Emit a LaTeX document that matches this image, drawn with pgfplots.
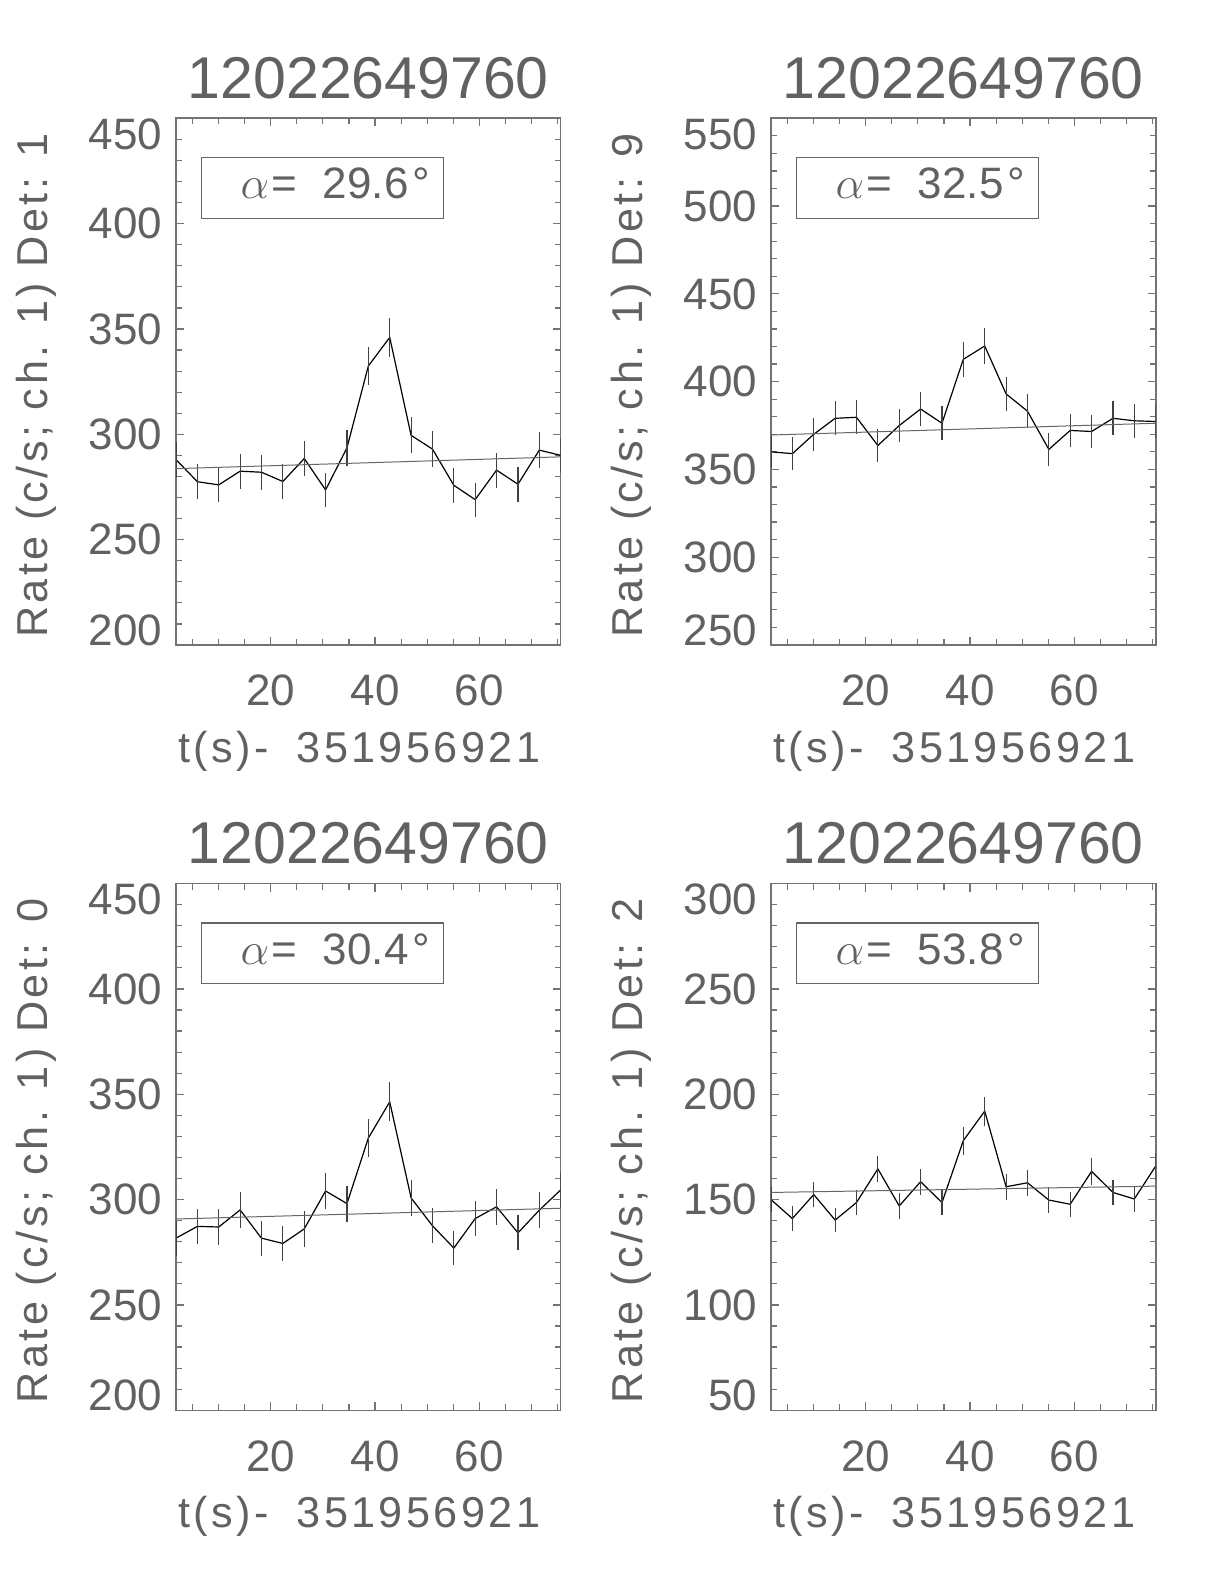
\documentclass[border=0pt]{standalone}
\usepackage{fontspec}
\setmainfont{Liberation Sans}
\newfontfamily\labelfont[LetterSpace=8]{Liberation Sans}
\usepackage{pgfplots}
\usepackage{pgfplotstable}
\pgfplotsset{compat=1.18}

\pgfplotstableread{
x y e
1.85 288.0 8.39
5.95 277.5 8.23
10.04 276.0 8.21
14.14 282.5 8.30
18.23 282.0 8.30
22.33 277.6 8.23
26.43 288.5 8.39
30.52 273.6 8.17
34.62 293.6 8.47
38.71 332.4 9.01
42.81 346.0 9.19
46.91 299.5 8.55
51.00 293.0 8.46
55.10 275.8 8.21
59.19 269.0 8.10
63.29 283.0 8.31
67.39 276.3 8.21
71.48 292.5 8.45
75.58 290.0 8.41
}\dataA
\pgfplotstableread{
x y e
1.85 360.0 9.38
5.95 359.0 9.36
10.04 370.0 9.50
14.14 379.1 9.62
18.23 379.7 9.63
22.33 363.6 9.42
26.43 375.0 9.57
30.52 384.4 9.69
34.62 376.3 9.58
38.71 412.7 10.04
42.81 420.3 10.13
46.91 393.0 9.80
51.00 383.2 9.67
55.10 361.4 9.39
59.19 372.2 9.53
63.29 371.6 9.52
67.39 379.1 9.62
71.48 377.7 9.60
75.58 377.3 9.60
}\dataB
\pgfplotstableread{
x y e
1.85 281.7 8.29
5.95 287.3 8.38
10.04 287.0 8.37
14.14 295.1 8.49
18.23 281.7 8.29
22.33 279.2 8.26
26.43 286.1 8.36
30.52 304.1 8.62
34.62 298.1 8.53
38.71 329.2 8.96
42.81 346.4 9.20
46.91 300.8 8.57
51.00 287.6 8.38
55.10 277.0 8.22
59.19 291.0 8.43
63.29 296.6 8.51
67.39 284.2 8.33
71.48 295.0 8.49
75.58 304.6 8.62
}\dataC
\pgfplotstableread{
x y e
1.85 150.0 6.05
5.95 141.0 5.87
10.04 152.4 6.10
14.14 140.3 5.85
18.23 148.6 6.02
22.33 164.6 6.34
26.43 147.0 5.99
30.52 158.5 6.22
34.62 148.6 6.02
38.71 178.0 6.59
42.81 192.0 6.85
46.91 156.1 6.17
51.00 158.0 6.21
55.10 149.8 6.05
59.19 147.8 6.01
63.29 163.4 6.32
67.39 153.4 6.12
71.48 150.3 6.06
75.58 165.9 6.36
}\dataD

\newcommand{\yup}[1]{\raisebox{7.5bp}[\height][\depth]{#1}}
\newcommand{\ydn}[1]{\raisebox{-8bp}[\height][\depth]{#1}}

\pgfplotsset{
  panel/.style={
    anchor=south west,
    scale only axis, width=192.35bp, height=263.35bp,
    xmin=1.85, xmax=75.58,
    xtick={20,40,60}, minor xtick={5,10,...,75},
    minor y tick num=4,
    clip mode=individual,
    axis line style={black!55, line width=0.8bp},
    every tick/.style={black!55, line width=0.6bp},
    major tick length=4bp, minor tick length=3bp,
    tick label style={font=\fontsize{22bp}{26bp}\selectfont, text=black!62},
    xticklabel style={yshift=-11.5bp},
    yticklabel style={xshift=-3.5bp},
    /pgf/number format/assume math mode=true,
    title style={font=\fontsize{29.5bp}{34bp}\selectfont, text=black!62, at={(0.5,1.0155)}, anchor=base},
    title={12022649760},
    xlabel style={font=\labelfont\fontsize{21.6bp}{26bp}\selectfont, text=black!62, at={(0.477,-0.2226)}, anchor=base},
    xlabel={t(s)-\hspace{6bp} 351956921},
    ylabel style={font=\labelfont\fontsize{21.6bp}{26bp}\selectfont, text=black!62, at={(-0.3343,0.4924)}, anchor=base},
  },
  dataplot/.style={black, line width=0.6bp, no marks,
    error bars/.cd, y dir=both, y explicit, error mark=none,
    error bar style={black!75, line width=0.6bp}},
  bgline/.style={black!60, line width=0.5bp, no marks},
}

\newcommand{\alphabox}[1]{%
  \draw[black!60, line width=0.6bp] (rel axis cs:0.067,0.810) rectangle (rel axis cs:0.696,0.925);
  \node[anchor=base west, inner sep=0pt, text=black!62, font=\fontsize{22bp}{26bp}\selectfont] at (rel axis cs:0.167,0.847) {\scalebox{1.1}{$\alpha$}\hspace{1bp}=\hspace{13bp}#1\hspace{2bp}\textdegree};
}

\begin{document}
\begin{tikzpicture}
\useasboundingbox (0,0) rectangle (612bp,792bp);

\begin{axis}[panel, at={(88bp,469.5bp)},
  ymin=200, ymax=450, ytick={200,250,...,450},
  yticklabels={\yup{200},250,300,350,400,\ydn{450}},
  ylabel={Rate (c/s; ch. 1) Det: 1}]
\addplot[dataplot] table[x=x,y=y,y error=e] {\dataA};
\addplot[bgline] coordinates {(1.85,283.7) (75.58,289.3)};
\alphabox{29.6}
\end{axis}

\begin{axis}[panel, at={(385.5bp,469.5bp)},
  ymin=250, ymax=550, ytick={250,300,...,550},
  yticklabels={\yup{250},300,350,400,450,500,\ydn{550}},
  ylabel={Rate (c/s; ch. 1) Det: 9}]
\addplot[dataplot] table[x=x,y=y,y error=e] {\dataB};
\addplot[bgline] coordinates {(1.85,369.6) (75.58,376.3)};
\alphabox{32.5}
\end{axis}

\begin{axis}[panel, at={(88bp,86.85bp)},
  ymin=200, ymax=450, ytick={200,250,...,450},
  yticklabels={\yup{200},250,300,350,400,\ydn{450}},
  ylabel={Rate (c/s; ch. 1) Det: 0}]
\addplot[dataplot] table[x=x,y=y,y error=e] {\dataC};
\addplot[bgline] coordinates {(1.85,290.8) (75.58,295.9)};
\alphabox{30.4}
\end{axis}

\begin{axis}[panel, at={(385.5bp,86.85bp)},
  ymin=50, ymax=300, ytick={50,100,...,300},
  yticklabels={\yup{50},100,150,200,250,\ydn{300}},
  ylabel={Rate (c/s; ch. 1) Det: 2}]
\addplot[dataplot] table[x=x,y=y,y error=e] {\dataD};
\addplot[bgline] coordinates {(1.85,153.4) (75.58,156.4)};
\alphabox{53.8}
\end{axis}
\end{tikzpicture}
\end{document}
